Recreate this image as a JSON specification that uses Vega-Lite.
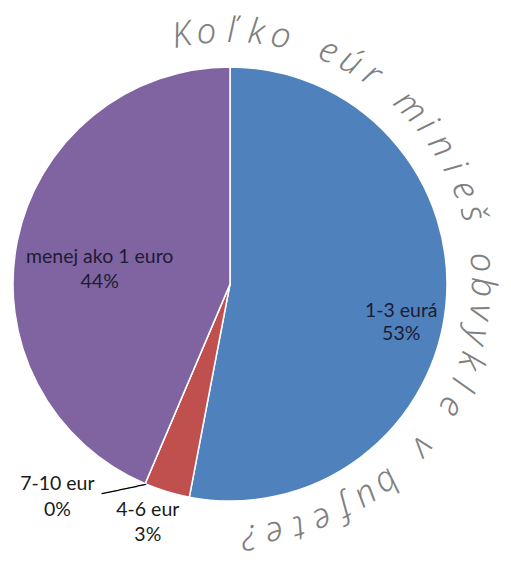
{
  "$schema": "https://vega.github.io/schema/vega-lite/v6.json",
  "width": 460,
  "height": 568,
  "autosize": "none",
  "padding": {"left": 0, "top": 0, "right": 51, "bottom": 0},
  "background": "white",
  "config": {"view": {"stroke": null}},
  "layer": [
    {
      "data": {"values": [
        {"name": "1-3 eurá", "value": 53.0, "label": "1-3 eurá\n53%"},
        {"name": "4-6 eur", "value": 3.4, "label": "4-6 eur\n3%"},
        {"name": "7-10 eur", "value": 0.0, "label": "7-10 eur\n0%"},
        {"name": "menej ako 1 euro", "value": 43.6, "label": "menej ako 1 euro\n44%"}
      ]},
      "encoding": {
        "theta": {"field": "value", "type": "quantitative", "stack": true}
      },
      "layer": [
        {
          "mark": {"type": "arc", "outerRadius": 217, "stroke": "white", "strokeWidth": 1.5},
          "encoding": {
            "color": {"field": "name", "type": "nominal", "legend": null,
              "scale": {"domain": ["1-3 eurá", "4-6 eur", "7-10 eur", "menej ako 1 euro"],
                        "range": ["#4F81BD", "#C0504D", "#9BBB59", "#8064A2"]}}
          }
        },
        {
          "mark": {"type": "text", "radius": 172, "dy": 11, "lineBreak": "\n", "lineHeight": 23, "font": "Lato", "fontSize": 19.5, "fill": "#1c1c34", "align": "center", "baseline": "middle"},
          "encoding": {"text": {"condition": {"test": "datum.name === '1-3 eurá'", "field": "label"}, "value": ""}}
        },
        {
          "mark": {"type": "text", "radius": 133, "dy": 0, "lineBreak": "\n", "lineHeight": 25, "font": "Lato", "fontSize": 19.5, "fill": "#1c1c34", "align": "center", "baseline": "middle"},
          "encoding": {"text": {"condition": {"test": "datum.name === 'menej ako 1 euro'", "field": "label"}, "value": ""}}
        },
        {
          "mark": {"type": "text", "radius": 255, "dx": -8, "dy": -18, "lineBreak": "\n", "lineHeight": 25, "font": "Lato", "fontSize": 19.5, "fill": "#1a1a1a", "align": "center", "baseline": "middle"},
          "encoding": {"text": {"condition": {"test": "datum.name === '4-6 eur'", "field": "label"}, "value": ""}}
        },
        {
          "mark": {"type": "text", "radius": 275, "dx": -65, "dy": -53, "lineBreak": "\n", "lineHeight": 26, "font": "Lato", "fontSize": 19.5, "fill": "#1a1a1a", "align": "center", "baseline": "middle"},
          "encoding": {"text": {"condition": {"test": "datum.name === '7-10 eur'", "field": "label"}, "value": ""}}
        },
        {
          "mark": {"type": "text", "radius": 217, "dx": -22, "dy": 1, "angle": -12, "font": "DejaVu Sans Mono", "fontSize": 15, "fill": "#000000", "align": "center", "baseline": "middle"},
          "encoding": {"text": {"condition": {"test": "datum.name === '7-10 eur'", "value": "─────"}, "value": ""}}
        }
      ]
    },
    {
      "data": {"values": [
        {"ch": "K"}, {"ch": "o"}, {"ch": "ľ"}, {"ch": "k"}, {"ch": "o"}, {"ch": " "},
        {"ch": "e"}, {"ch": "ú"}, {"ch": "r"}, {"ch": " "},
        {"ch": "m"}, {"ch": "i"}, {"ch": "n"}, {"ch": "i"}, {"ch": "e"}, {"ch": "š"}, {"ch": " "},
        {"ch": "o"}, {"ch": "b"}, {"ch": "v"}, {"ch": "y"}, {"ch": "k"}, {"ch": "l"}, {"ch": "e"}, {"ch": " "},
        {"ch": "v"}, {"ch": " "},
        {"ch": "b"}, {"ch": "u"}, {"ch": "f"}, {"ch": "e"}, {"ch": "t"}, {"ch": "e"}, {"ch": "?"}
      ]},
      "transform": [{"window": [{"op": "row_number", "as": "i"}]}],
      "mark": {"type": "text", "radius": 253, "font": "Noto Sans", "fontStyle": "italic", "fontWeight": 300, "fontSize": 35, "fill": "#808080", "align": "center", "baseline": "middle"},
      "encoding": {
        "theta": {"field": "i", "type": "quantitative", "stack": null, "scale": {"domain": [1, 34], "range": [-0.192, 3.063]}},
        "angle": {"field": "i", "type": "quantitative", "scale": {"domain": [1, 34], "range": [-11, 175.5]}},
        "text": {"field": "ch", "type": "nominal"}
      }
    }
  ],
  "resolve": {"scale": {"theta": "independent"}}
}
